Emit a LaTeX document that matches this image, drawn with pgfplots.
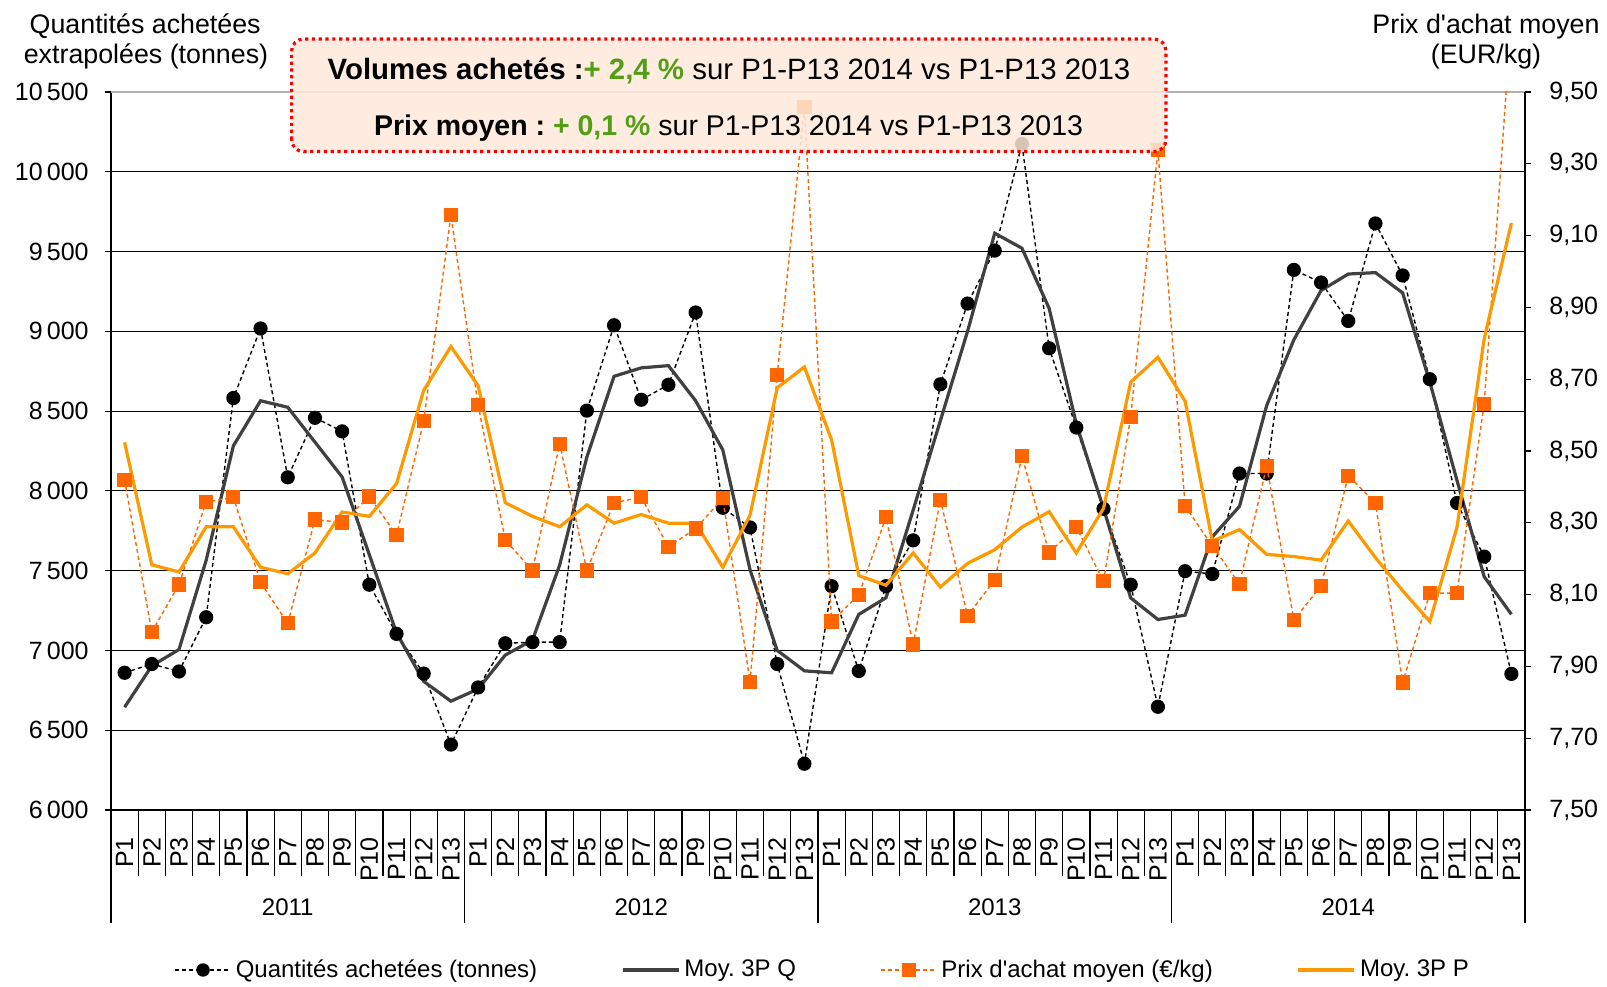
\documentclass[border=0pt]{standalone}
\usepackage{pgfplots}
\pgfplotsset{compat=1.18}
\usepackage{pgfplotstable}
\usepackage{fontspec}
\setmainfont{Liberation Sans}
\frenchspacing
\definecolor{qgray}{RGB}{64,64,64}
\definecolor{porange}{RGB}{255,102,0}
\definecolor{pmorange}{RGB}{255,153,0}
\definecolor{boxfill}{RGB}{253,233,217}
\definecolor{vgreen}{RGB}{84,158,22}

\pgfplotstableread{
x q qm p pm
0 6860 6644 8.419 8.524
1 6915 6903 7.996 8.183
2 6868 7006 8.128 8.163
3 7208 7565 8.358 8.289
4 8582 8282 8.371 8.289
5 9018 8565 8.134 8.176
6 8085 8524 8.020 8.158
7 8458 8306 8.309 8.216
8 8373 8087 8.301 8.330
9 7412 7600 8.373 8.318
10 7104 7110 8.266 8.409
11 6855 6806 8.583 8.669
12 6410 6682 9.157 8.791
13 6768 6758 8.628 8.682
14 7045 6971 8.252 8.356
15 7052 7065 8.167 8.318
16 7052 7535 8.520 8.289
17 8503 8212 8.167 8.350
18 9038 8718 8.356 8.299
19 8571 8771 8.371 8.323
20 8665 8785 8.233 8.299
21 9118 8565 8.284 8.299
22 7894 8256 8.368 8.176
23 7771 7506 7.857 8.321
24 6915 7000 8.711 8.676
25 6290 6872 9.459 8.734
26 7403 6860 8.025 8.531
27 6871 7226 8.099 8.153
28 7403 7330 8.316 8.126
29 7690 7880 7.961 8.216
30 8668 8440 8.364 8.121
31 9174 9000 8.041 8.187
32 9506 9615 8.141 8.225
33 10174 9521 8.485 8.288
34 8894 9144 8.217 8.331
35 8397 8420 8.288 8.216
36 7888 7890 8.137 8.340
37 7412 7329 8.595 8.692
38 6647 7194 9.338 8.761
39 7497 7221 8.347 8.639
40 7479 7712 8.235 8.249
41 8109 7903 8.130 8.281
42 8109 8535 8.459 8.212
43 9385 8947 8.029 8.206
44 9306 9256 8.124 8.196
45 9065 9359 8.431 8.305
46 9676 9368 8.356 8.203
47 9350 9241 7.855 8.111
48 8700 8682 8.104 8.025
49 7924 8065 8.104 8.288
50 7588 7462 8.632 8.813
51 6853 7226 9.710 9.135
}\datatable

\begin{document}
\begin{tikzpicture}
\useasboundingbox (0,0) rectangle (803.5pt,493pt);
\begin{axis}[
  at={(55.5pt,88pt)}, anchor=south west,
  scale only axis, width=707pt, height=359pt,
  xmin=-0.5, xmax=51.5, ymin=6000, ymax=10500,
  clip=false, scaled y ticks=false,
  axis x line*=bottom, axis y line*=left,
  axis line style={-, line width=1pt, black},
  tick align=outside, major tick length=3pt, minor tick length=33pt,
  xtick={0,...,51},
  xticklabels={P1,P2,P3,P4,P5,P6,P7,P8,P9,P10,P11,P12,P13,P1,P2,P3,P4,P5,P6,P7,P8,P9,P10,P11,P12,P13,P1,P2,P3,P4,P5,P6,P7,P8,P9,P10,P11,P12,P13,P1,P2,P3,P4,P5,P6,P7,P8,P9,P10,P11,P12,P13},
  minor xtick={-0.5,0.5,...,51.5},
  major x tick style={draw=none},
  minor x tick style={black, line width=0.6pt},
  xticklabel style={rotate=90, anchor=east, inner sep=0pt, font=\fontsize{12.5}{14}\selectfont},
  xticklabel shift=10.5pt,
  ytick={6000,6500,7000,7500,8000,8500,9000,9500,10000,10500},
  yticklabels={6\,000,6\,500,7\,000,7\,500,8\,000,8\,500,9\,000,9\,500,10\,000,10\,500},
  ytick style={black, line width=0.6pt},
  yticklabel style={anchor=east, inner sep=0pt, font=\fontsize{12.5}{14}\selectfont},
  yticklabel shift=8pt,
  ymajorgrids, major grid style={black, line width=0.6pt},
]
\addplot[black, line width=0.7pt, dash pattern=on 2pt off 1.5pt, mark=*, mark size=3.2pt, mark options={solid, fill=black}] table[x=x,y=q]{\datatable};
\addplot[qgray, line width=1.6pt] table[x=x,y=qm]{\datatable};
\draw[gray!60, line width=0.8pt] (axis cs:-0.5,10500) -- (axis cs:51.5,10500);
\pgfplotsinvokeforeach{-0.5,12.5,25.5,38.5,51.5}{\draw[black, line width=0.6pt] (axis cs:#1,6000) -- ++(0pt,-56.5pt);}
\path (axis cs:6,6000) ++(0pt,-48.5pt) node[font=\fontsize{12}{14}\selectfont] {2011};
\path (axis cs:19,6000) ++(0pt,-48.5pt) node[font=\fontsize{12}{14}\selectfont] {2012};
\path (axis cs:32,6000) ++(0pt,-48.5pt) node[font=\fontsize{12}{14}\selectfont] {2013};
\path (axis cs:45,6000) ++(0pt,-48.5pt) node[font=\fontsize{12}{14}\selectfont] {2014};
\end{axis}
\begin{axis}[
  at={(55.5pt,88pt)}, anchor=south west,
  scale only axis, width=707pt, height=359pt,
  xmin=-0.5, xmax=51.5, ymin=7.5, ymax=9.5,
  axis x line=none, axis y line*=right,
  axis line style={-, line width=1pt, black},
  tick align=outside, major tick length=3pt,
  ytick={7.5,7.7,7.9,8.1,8.3,8.5,8.7,8.9,9.1,9.3,9.5},
  yticklabels={{7,50},{7,70},{7,90},{8,10},{8,30},{8,50},{8,70},{8,90},{9,10},{9,30},{9,50}},
  ytick style={black, line width=0.6pt},
  yticklabel style={anchor=west, inner sep=0pt, font=\fontsize{12.5}{14}\selectfont},
  yticklabel shift=9pt,
  legend image code/.code={\draw[mark repeat=2,mark phase=2,#1] plot coordinates {(0pt,0pt) (14pt,0pt) (28pt,0pt)};},
  legend style={at={(0.504,-0.2228)}, anchor=center, draw=none, fill=none,
    font=\fontsize{12}{14}\selectfont, legend columns=4,
    /tikz/every even column/.append style={column sep=40pt}},
  legend cell align=left,
]
\addlegendimage{black, line width=0.7pt, dash pattern=on 2pt off 1.5pt, mark=*, mark size=3pt, mark options={solid, fill=black}}
\addlegendentry{Quantités achetées (tonnes)}
\addlegendimage{qgray, line width=1.6pt}
\addlegendentry{Moy. 3P Q}
\addplot[porange, line width=0.7pt, dash pattern=on 2pt off 1.5pt, mark=square*, mark size=3.2pt, mark options={solid, fill=porange, draw=porange}] table[x=x,y=p]{\datatable};
\addlegendentry{Prix d\textquotesingle achat moyen (€/kg)}
\addplot[pmorange, line width=1.6pt] table[x=x,y=pm]{\datatable};
\addlegendentry{Moy. 3P P}
\end{axis}
\draw[red, line width=1.6pt, dash pattern=on 1.6pt off 1.8pt, rounded corners=6pt, fill=boxfill, fill opacity=0.85] (145.8pt,417.2pt) rectangle (583pt,473.5pt);
\node[anchor=base, inner sep=0pt, font=\fontsize{14.7}{16}\selectfont] at (364.5pt,453.3pt) {\textbf{Volumes achetés :}\textcolor{vgreen}{\textbf{+ 2,4 \%}} sur P1-P13 2014 vs P1-P13 2013};
\node[anchor=base, inner sep=0pt, font=\fontsize{14.25}{16}\selectfont] at (364.3pt,425pt) {\textbf{Prix moyen : }\textcolor{vgreen}{\textbf{+ 0,1 \%}} sur P1-P13 2014 vs P1-P13 2013};
\node[anchor=base, inner sep=0pt, font=\fontsize{13.4}{16}\selectfont] at (72.6pt,476pt) {Quantités achetées};
\node[anchor=base, inner sep=0pt, font=\fontsize{13.4}{16}\selectfont] at (73pt,461.2pt) {extrapolées (tonnes)};
\node[anchor=base, inner sep=0pt, font=\fontsize{13.4}{16}\selectfont] at (743pt,476pt) {Prix d\textquotesingle achat moyen};
\node[anchor=base, inner sep=0pt, font=\fontsize{13.4}{16}\selectfont] at (743pt,461.2pt) {(EUR/kg)};
\end{tikzpicture}
\end{document}
